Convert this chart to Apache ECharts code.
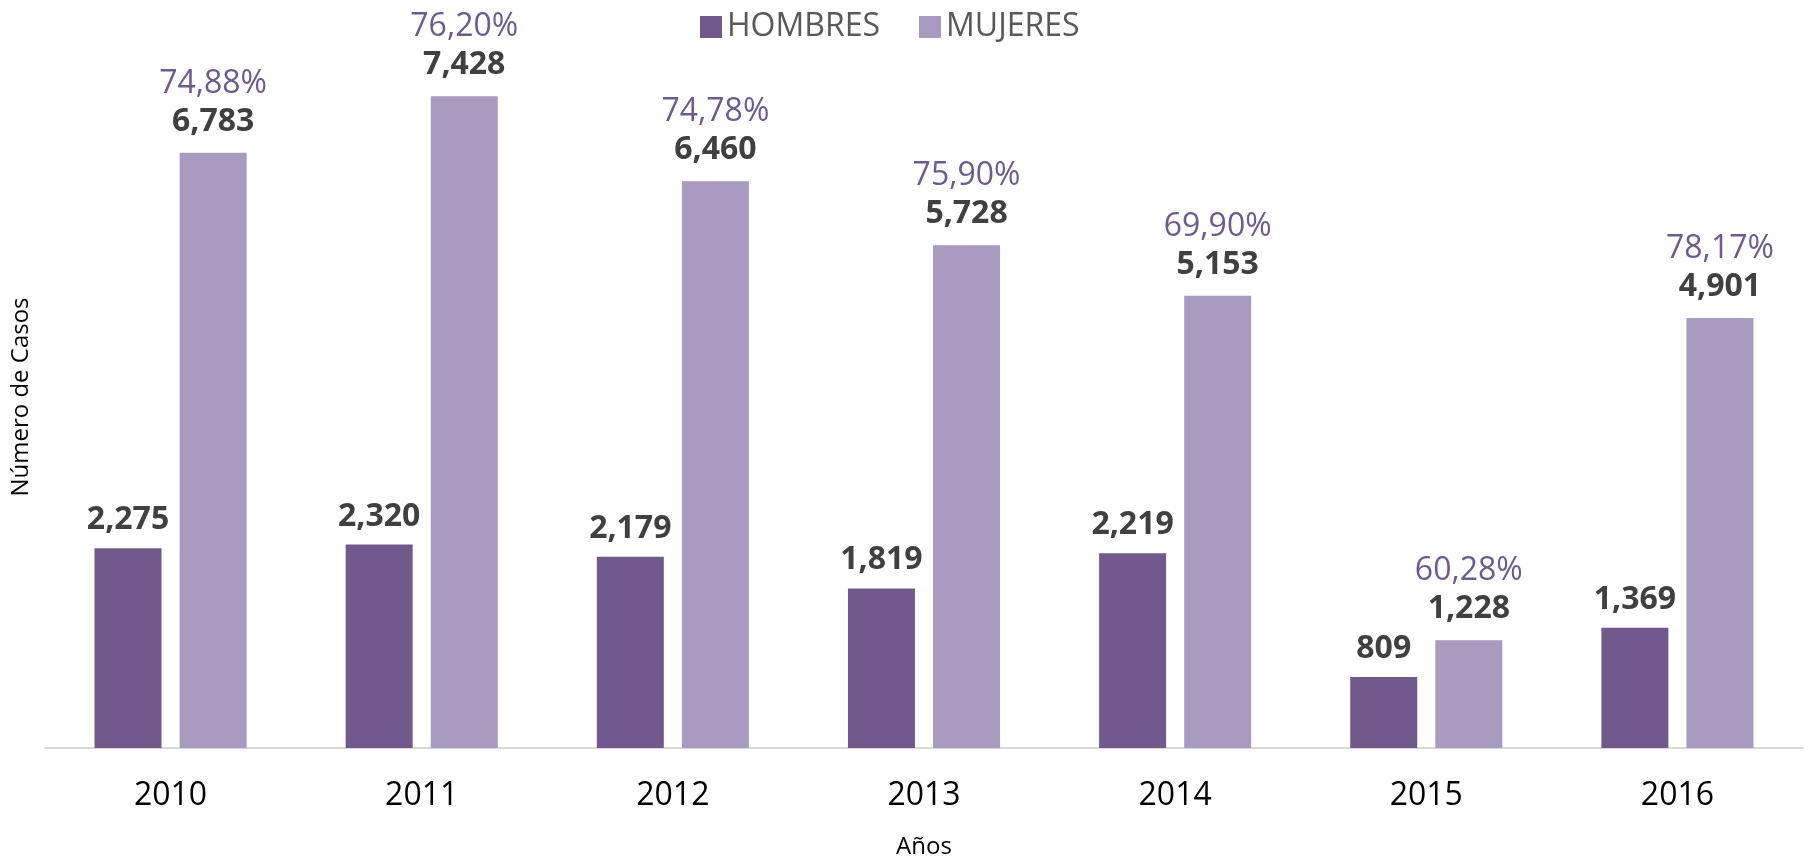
<!DOCTYPE html>
<html>
<head>
<meta charset="utf-8">
<script src="https://cdn.jsdelivr.net/npm/echarts@6/dist/echarts.min.js"></script>
<style>
  html, body {margin: 0; padding: 0; background: #fff;}
  #chart {width: 1810px; height: 861px;}
</style>
</head>
<body>
<div id="chart"></div>
<script>
var years = ['2010', '2011', '2012', '2013', '2014', '2015', '2016'];
var hombres = [2275, 2320, 2179, 1819, 2219, 809, 1369];
var mujeres = [6783, 7428, 6460, 5728, 5153, 1228, 4901];
var pctMujeres = ['74,88%', '76,20%', '74,78%', '75,90%', '69,90%', '60,28%', '78,17%'];

var FONT = '"Open Sans", sans-serif';

var fmtNum = function (v) {
    return String(v).replace(/\B(?=(\d{3})+(?!\d))/g, ',');
};

var chart = echarts.init(document.getElementById('chart'));

var option = {
    animation: false,
    textStyle: {fontFamily: FONT},
    legend: {
        top: 6, left: 695, itemWidth: 22, itemHeight: 22, itemGap: 39,
        icon: 'rect',
        textStyle: {fontSize: 32, color: '#595959', fontFamily: FONT},
        data: ['HOMBRES', 'MUJERES']
    },
    // v6 grid pushes itself inward to fit names/labels, turn that off
    grid: {left: 45, right: 7, top: 46, bottom: 113, containLabel: false, outerBoundsMode: 'none'},
    xAxis: {
        type: 'category', data: years,
        name: 'Años', nameLocation: 'middle', nameGap: 87,
        nameTextStyle: {fontSize: 24, color: '#000', fontFamily: FONT},
        axisLine: {lineStyle: {color: '#d9d9d9', width: 2}},
        axisTick: {show: false},
        axisLabel: {fontSize: 32, color: '#000', margin: 32, fontFamily: FONT}
    },
    yAxis: {
        type: 'value', min: 0, max: 8000,
        name: 'Número de Casos', nameLocation: 'middle', nameGap: 12,
        nameTextStyle: {fontSize: 24, color: '#000', fontFamily: FONT},
        axisLine: {show: false}, axisTick: {show: false},
        axisLabel: {show: false}, splitLine: {show: false}
    },
    series: [
        {
            name: 'HOMBRES', type: 'bar', data: hombres,
            barWidth: 67, barGap: '27%',
            itemStyle: {color: '#71598d'},
            label: {
                show: true, position: 'top', distance: 12,
                fontSize: 32, fontWeight: 'bold', color: '#404040', fontFamily: FONT,
                formatter: function (p) { return fmtNum(p.value); }
            }
        },
        {
            name: 'MUJERES', type: 'bar', data: mujeres,
            barWidth: 67,
            itemStyle: {color: '#a99abf'},
            label: {
                show: true, position: 'top', distance: 12,
                formatter: function (p) {
                    return '{p|' + pctMujeres[p.dataIndex] + '}\n{v|' + fmtNum(p.value) + '}';
                },
                rich: {
                    p: {fontSize: 32, color: '#6f5a8e', fontFamily: FONT, lineHeight: 38},
                    v: {fontSize: 32, fontWeight: 'bold', color: '#404040', fontFamily: FONT, lineHeight: 38}
                }
            }
        }
    ]
};

chart.setOption(option);
</script>
</body>
</html>
